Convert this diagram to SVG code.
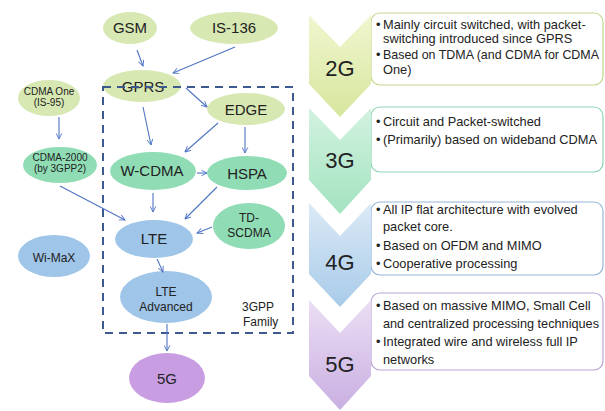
<svg xmlns="http://www.w3.org/2000/svg" width="605" height="411" viewBox="0 0 605 411">
<style>
  text { font-family: "Liberation Sans", Arial, sans-serif; fill: #222; }
  .n { text-anchor: middle; }
  .lg { font-size: 15px; }
  .md { font-size: 12px; }
  .sm { font-size: 10px; }
  .pg { fill: #d7e8b3; }
  .tg { fill: #8fdcb5; }
  .bl { fill: #9fc5e8; }
  .pu { fill: #c99de2; }
  .cn line { stroke: #4f74c4; stroke-width: 1.1; marker-end: url(#ah); }
  .box { fill: #fff; stroke-width: 1.2; }
  .bt { font-size: 12.8px; }
  .cg { font-size: 22px; text-anchor: middle; }
</style>
<defs>
  <marker id="ah" viewBox="0 0 10 10" refX="9" refY="5" markerWidth="7" markerHeight="7" orient="auto" markerUnits="userSpaceOnUse">
    <path d="M1,1 L9,5 L1,9" fill="none" stroke="#4f74c4" stroke-width="1.3"/>
  </marker>
  <linearGradient id="g2" x1="0" y1="0" x2="0" y2="1"><stop offset="0" stop-color="#f1f6cf"/><stop offset="1" stop-color="#d6e69c"/></linearGradient>
  <linearGradient id="g3" x1="0" y1="0" x2="0" y2="1"><stop offset="0" stop-color="#d2f2e0"/><stop offset="1" stop-color="#a3e3c0"/></linearGradient>
  <linearGradient id="g4" x1="0" y1="0" x2="0" y2="1"><stop offset="0" stop-color="#dbe9f6"/><stop offset="1" stop-color="#a8cbe9"/></linearGradient>
  <linearGradient id="g5" x1="0" y1="0" x2="0" y2="1"><stop offset="0" stop-color="#ebdef4"/><stop offset="1" stop-color="#c9afe2"/></linearGradient>
</defs>

<!-- nodes -->
<g id="gsm"><ellipse class="pg" cx="130" cy="28" rx="27" ry="16"/><text class="n lg" x="130" y="33">GSM</text></g>
<g id="is136"><ellipse class="pg" cx="234" cy="28" rx="44" ry="16"/><text class="n lg" x="234" y="33">IS-136</text></g>
<g id="gprs"><ellipse class="pg" cx="142" cy="86" rx="39" ry="16"/><text class="n lg" x="143" y="92">GPRS</text></g>
<g id="edge"><ellipse class="pg" cx="246" cy="109" rx="39" ry="16"/><text class="n lg" x="246" y="115">EDGE</text></g>
<g id="cdmaone"><ellipse class="pg" cx="49" cy="98" rx="31" ry="18"/><text class="n sm" x="49" y="95">CDMA One</text><text class="n sm" x="49" y="106">(IS-95)</text></g>
<g id="cdma2000"><ellipse class="tg" cx="60" cy="165" rx="37" ry="18"/><text class="n sm" x="60" y="161">CDMA-2000</text><text class="n sm" x="60" y="172">(by 3GPP2)</text></g>
<g id="wcdma"><ellipse class="tg" cx="153" cy="171" rx="43" ry="19"/><text class="n lg" x="152" y="176">W-CDMA</text></g>
<g id="hspa"><ellipse class="tg" cx="247" cy="173" rx="40" ry="17"/><text class="n lg" x="247" y="179">HSPA</text></g>
<g id="lte"><ellipse class="bl" cx="154" cy="239" rx="39" ry="19"/><text class="n lg" x="154" y="244">LTE</text></g>
<g id="tdscdma"><ellipse class="tg" cx="249" cy="226" rx="36" ry="23"/><text class="n md" x="249" y="222">TD-</text><text class="n md" x="249" y="237">SCDMA</text></g>
<g id="wimax"><ellipse class="bl" cx="54" cy="256" rx="36" ry="21"/><text class="n md" x="54" y="262">Wi-MaX</text></g>
<g id="lteadv"><ellipse class="bl" cx="166" cy="297" rx="46" ry="26"/><text class="n md" x="166" y="296">LTE</text><text class="n md" x="166" y="311">Advanced</text></g>
<g id="n5g"><ellipse class="pu" cx="167" cy="378" rx="38" ry="25"/><text class="n lg" x="167" y="384">5G</text></g>

<!-- 3GPP family dashed box -->
<g id="family">
  <rect x="103" y="87" width="190" height="246" fill="none" stroke="#3c5a8e" stroke-width="2" stroke-dasharray="8,6"/>
  <text class="md" x="242" y="311">3GPP</text><text class="md" x="243" y="326">Family</text>
</g>

<!-- connectors -->
<g class="cn">
  <line x1="137" y1="50" x2="143" y2="66"/>
  <line x1="235" y1="47" x2="173" y2="73"/>
  <line x1="186" y1="88" x2="207" y2="107"/>
  <line x1="143" y1="107" x2="151" y2="145"/>
  <line x1="218" y1="123" x2="185" y2="152"/>
  <line x1="245" y1="127" x2="245" y2="153"/>
  <line x1="197" y1="173" x2="207" y2="173"/>
  <line x1="59" y1="117" x2="59" y2="139"/>
  <line x1="60" y1="186" x2="125" y2="220"/>
  <line x1="153" y1="193" x2="153" y2="212"/>
  <line x1="217" y1="187" x2="185" y2="219"/>
  <line x1="212" y1="227" x2="197" y2="233"/>
  <line x1="157" y1="259" x2="163" y2="272"/>
  <line x1="167" y1="324" x2="167" y2="351"/>
</g>

<!-- generations -->
<g id="gen2">
  <rect class="box" x="371" y="13" width="232" height="72" rx="9" stroke="#c3d98e"/>
  <path d="M309,15 L340,47 L371,15 L371,84 L340,117 L309,84 Z" fill="url(#g2)"/>
  <text class="cg" x="340" y="76">2G</text>
  <text class="bt" x="376" y="29">•</text><text class="bt" x="383" y="29">Mainly circuit switched, with packet-</text>
  <text class="bt" x="383" y="43">switching introduced since GPRS</text>
  <text class="bt" x="376" y="59">•</text><text class="bt" x="383" y="59" textLength="216" lengthAdjust="spacingAndGlyphs">Based on TDMA (and CDMA for CDMA</text>
  <text class="bt" x="383" y="74">One)</text>
</g>
<g id="gen3">
  <rect class="box" x="371" y="107" width="232" height="65" rx="9" stroke="#90d6b6"/>
  <path d="M309,108 L340,140 L371,108 L371,180 L340,214 L309,180 Z" fill="url(#g3)"/>
  <text class="cg" x="340" y="168">3G</text>
  <text class="bt" x="376" y="126">•</text><text class="bt" x="383" y="126">Circuit and Packet-switched</text>
  <text class="bt" x="376" y="144">•</text><text class="bt" x="383" y="144" textLength="214" lengthAdjust="spacingAndGlyphs">(Primarily) based on wideband CDMA</text>
</g>
<g id="gen4">
  <rect class="box" x="371" y="202" width="232" height="73" rx="9" stroke="#95b5da"/>
  <path d="M309,203 L340,236 L371,203 L371,274 L340,307 L309,274 Z" fill="url(#g4)"/>
  <text class="cg" x="340" y="270">4G</text>
  <text class="bt" x="376" y="214">•</text><text class="bt" x="383" y="214">All IP flat architecture with evolved</text>
  <text class="bt" x="383" y="231">packet core.</text>
  <text class="bt" x="376" y="250">•</text><text class="bt" x="383" y="250">Based on OFDM and MIMO</text>
  <text class="bt" x="376" y="268">•</text><text class="bt" x="383" y="268">Cooperative processing</text>
</g>
<g id="gen5">
  <rect class="box" x="371" y="293" width="232" height="77" rx="9" stroke="#b9a6d4"/>
  <path d="M309,300 L340,333 L371,300 L371,376 L340,410 L309,376 Z" fill="url(#g5)"/>
  <text class="cg" x="340" y="372">5G</text>
  <text class="bt" x="376" y="310">•</text><text class="bt" x="383" y="310">Based on massive MIMO, Small Cell</text>
  <text class="bt" x="383" y="328" textLength="216" lengthAdjust="spacingAndGlyphs">and centralized processing techniques</text>
  <text class="bt" x="376" y="346">•</text><text class="bt" x="383" y="346">Integrated wire and wireless full IP</text>
  <text class="bt" x="383" y="364">networks</text>
</g>
</svg>
